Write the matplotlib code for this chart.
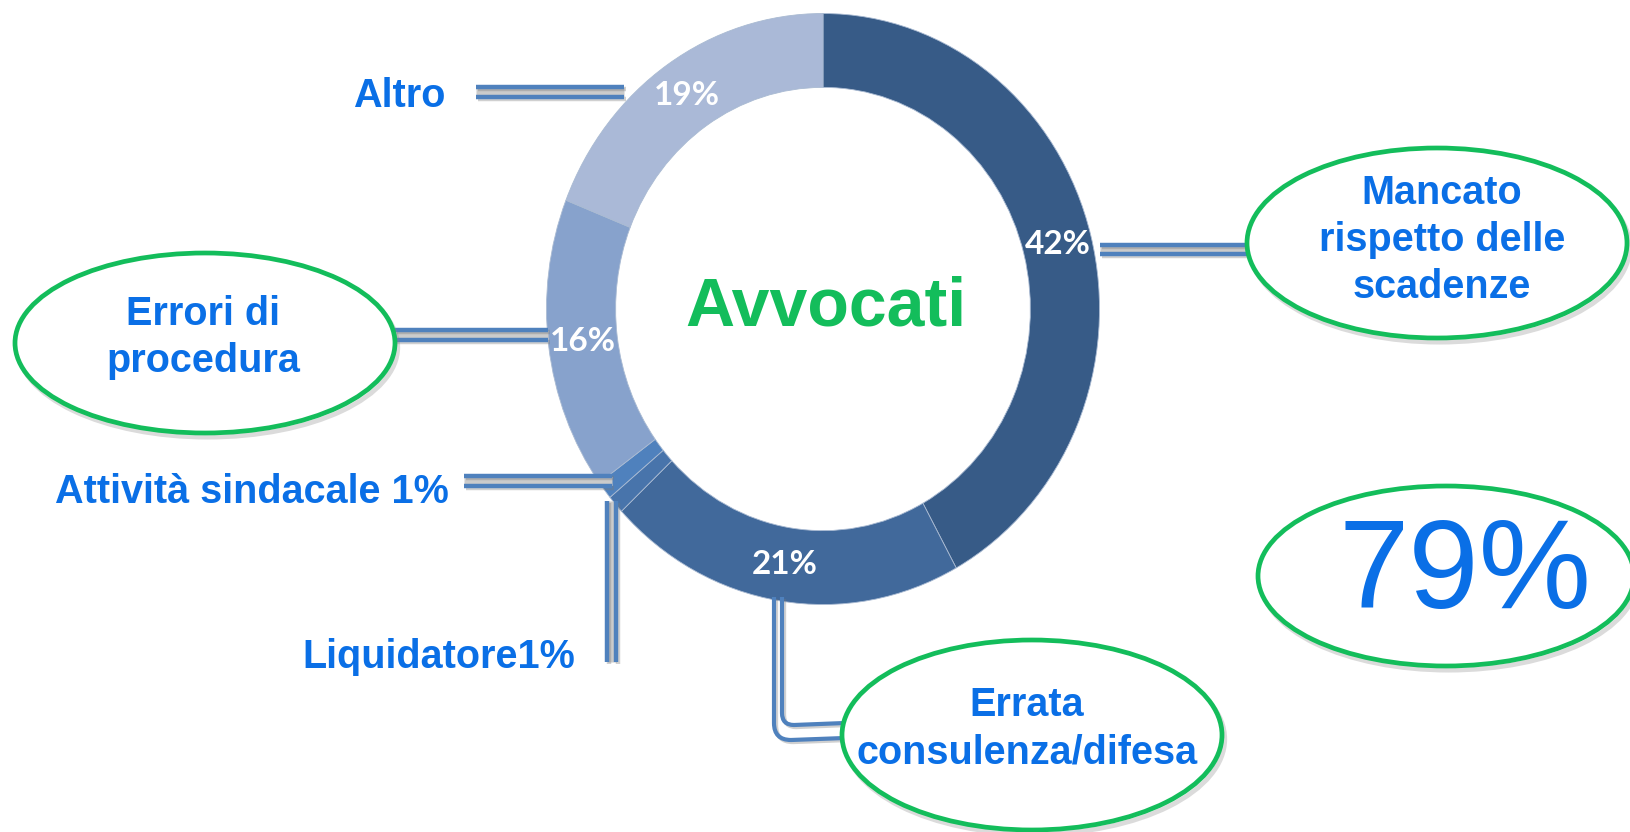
import matplotlib
matplotlib.use("Agg")

import matplotlib.patheffects as pe
import matplotlib.pyplot as plt
from matplotlib.patches import Ellipse, PathPatch
from matplotlib.path import Path

# ─── Data ────────────────────────────────────────────────────────────────
categories = ["Mancato rispetto delle scadenze", "Errata consulenza/difesa",
              "Liquidatore", "Attività sindacale", "Errori di procedura", "Altro"]
values = [42, 21, 1, 1, 16, 19]
slice_colors = ["#375B87", "#41699B", "#4874AB", "#4F81BD", "#87A2CC", "#AAB9D7"]
callout_rows = [
    ["Mancato", "rispetto delle", "scadenze"],
    ["Errata", "consulenza/difesa"],
    ["Liquidatore1%"],
    ["Attività sindacale 1%"],
    ["Errori di", "procedura"],
    ["Altro"],
]
circled = [True, True, False, False, True, False]
centre_title = "Avvocati"

# ─── Style ───────────────────────────────────────────────────────────────
W, H = 1630, 832
BLUE_TEXT = "#0A6FE6"
GREEN = "#13BD5B"
LINE_BLUE = "#4F81BD"
GAP_GRAY = "#cbcbcb"
LABEL_FONT = dict(family=["Liberation Sans", "DejaVu Sans"], weight="bold",
                  size=28.5, color=BLUE_TEXT)
SHADOW = [pe.SimpleLineShadow(offset=(1.5, -1.5), shadow_color="#7a7a7a", alpha=0.35),
          pe.Normal()]

# donut box in pixels (centre, radii) – slightly taller than wide like the source
CX, CY, RX, RY = 823, 309, 276.5, 295.5

# callout layout: text anchor (x, first baseline, ha), ellipse (cx, cy, w, h)
text_pos = [(1442, 204, "center"), (1027, 716, "center"), (575, 668, "right"),
            (449, 503, "right"), (203, 325, "center"), (445, 107, "right")]
ellipse_box = [(1437, 243, 380, 190), (1032, 735, 380, 190), None, None,
               (205, 343, 380, 180), None]
total_box = (1446, 576, 376, 180)


def double_line(ax, p0, p1, off):
    (x0, y0), (x1, y1) = p0, p1
    ox, oy = off
    ax.plot([x0 + ox / 2, x1 + ox / 2], [y0 + oy / 2, y1 + oy / 2],
            color=GAP_GRAY, lw=6.5, solid_capstyle="butt", zorder=2)
    for k in (0, 1):
        ax.plot([x0 + k * ox, x1 + k * ox], [y0 + k * oy, y1 + k * oy],
                color=LINE_BLUE, lw=3.2, solid_capstyle="butt", zorder=3,
                path_effects=SHADOW)


def elbow(ax, x, y_top, y_h, x_end, r):
    verts = [(x, y_top), (x, y_h - r), (x, y_h), (x + r, y_h), (x_end, y_h - 2)]
    codes = [Path.MOVETO, Path.LINETO, Path.CURVE3, Path.CURVE3, Path.LINETO]
    ax.add_patch(PathPatch(Path(verts, codes), fill=False, edgecolor=LINE_BLUE,
                           lw=3.0, zorder=3, path_effects=SHADOW))


fig = plt.figure(figsize=(W / 100, H / 100), dpi=100, facecolor="white")

# ─── Donut ───────────────────────────────────────────────────────────────
pax = fig.add_axes([(CX - RX) / W, 1 - (CY + RY) / H, 2 * RX / W, 2 * RY / H])
wedges, _, autotexts = pax.pie(
    values, colors=slice_colors, startangle=90, counterclock=False, radius=1,
    wedgeprops=dict(width=0.25, edgecolor="#a9bad2", linewidth=0.6),
    autopct=lambda p: f"{p:.0f}%" if p >= 5 else "", pctdistance=0.875,
    textprops=dict(color="white", family=["Lato", "DejaVu Sans"],
                   weight="bold", size=24),
)
pax.set_xlim(-1, 1)
pax.set_ylim(-1, 1)
pax.set_aspect("auto")
pax.axis("off")

# ─── Overlay in pixel coordinates ────────────────────────────────────────
ax = fig.add_axes([0, 0, 1, 1])
ax.set_xlim(0, W)
ax.set_ylim(H, 0)
ax.axis("off")

ax.text(826, 326, centre_title, ha="center", va="baseline", color=GREEN,
        family=["Liberation Sans", "DejaVu Sans"], weight="bold", size=49)

# connectors
double_line(ax, (1100, 244.5), (1250, 244.5), (0, 9))      # Mancato
double_line(ax, (395, 330), (548, 330), (0, 9.5))          # Errori
double_line(ax, (476, 87), (624, 87), (0, 10))             # Altro
double_line(ax, (464, 475.5), (612, 475.5), (0, 10))       # Attività
double_line(ax, (607, 501), (607, 662), (9, 0))            # Liquidatore
elbow(ax, 782, 597, 725, 845, 12)                          # Errata (inner)
elbow(ax, 774, 597, 740, 845, 17)                          # Errata (outer)

# callout ellipses and texts
for rows, (tx, ty, ha), box in zip(callout_rows, text_pos, ellipse_box):
    if box is not None:
        ex, ey, ew, eh = box
        ax.add_patch(Ellipse((ex, ey), ew, eh, facecolor="white", edgecolor=GREEN,
                             lw=3.4, zorder=4,
                             path_effects=[pe.SimpleLineShadow(offset=(2, -3), shadow_color="#888888", alpha=0.3),
                                           pe.Normal()]))
    for i, row in enumerate(rows):
        ax.text(tx, ty + i * 47, row, ha=ha, va="baseline", zorder=5, **LABEL_FONT)

# total of the circled categories
total = sum(v for v, c in zip(values, circled) if c)
ex, ey, ew, eh = total_box
ax.add_patch(Ellipse((ex, ey), ew, eh, facecolor="white", edgecolor=GREEN, lw=3.4,
                     zorder=4, clip_on=False,
                     path_effects=[pe.SimpleLineShadow(offset=(2, -3), shadow_color="#888888", alpha=0.3),
                                   pe.Normal()]))
ax.text(1465, 608, f"{total}%", ha="center", va="baseline", color=BLUE_TEXT,
        family=["Liberation Sans", "DejaVu Sans"], size=91, zorder=5)

fig.savefig("out.png", dpi=100, facecolor="white")
